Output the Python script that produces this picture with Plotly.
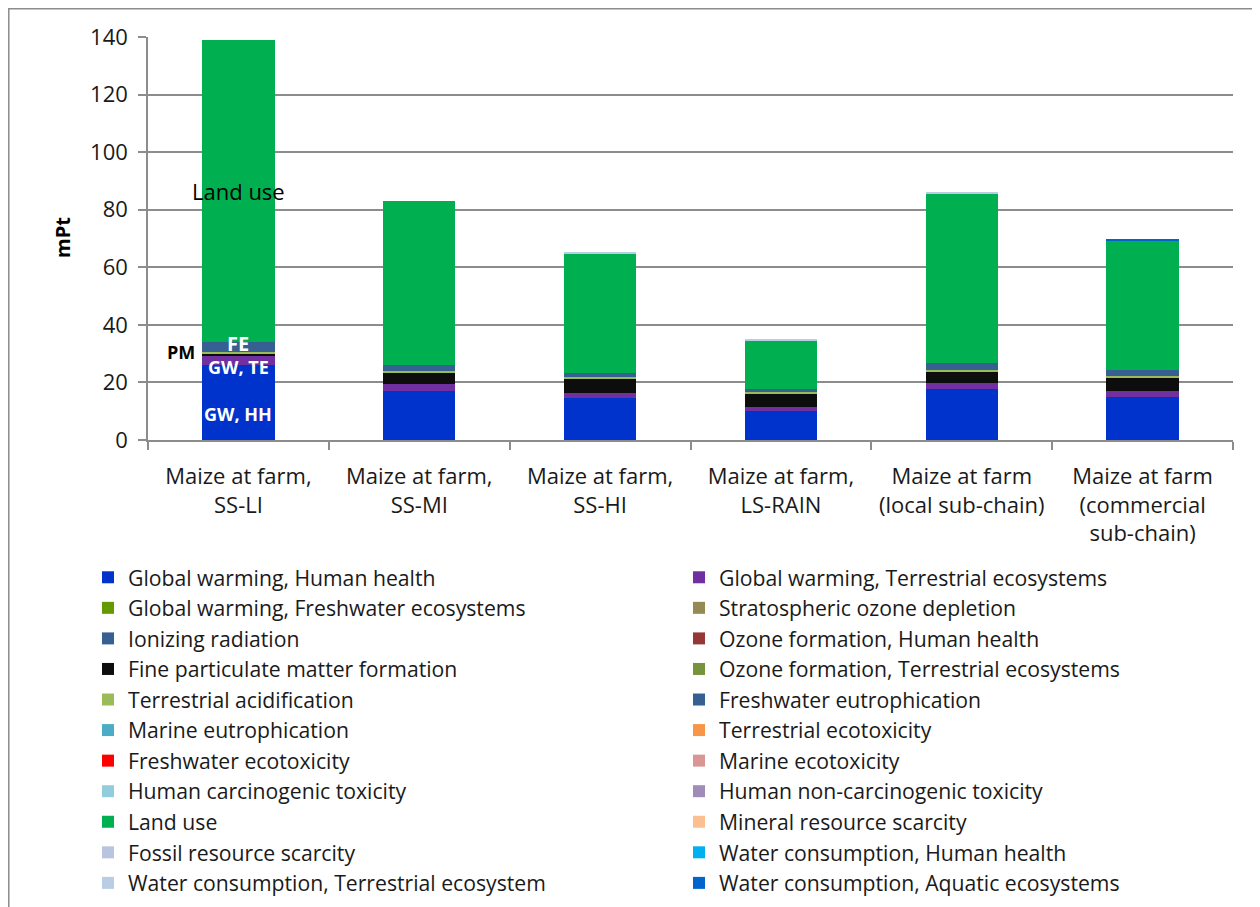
import plotly.graph_objects as go

categories = [
    "Maize at farm,<br>SS-LI",
    "Maize at farm,<br>SS-MI",
    "Maize at farm,<br>SS-HI",
    "Maize at farm,<br>LS-RAIN",
    "Maize at farm<br>(local sub-chain)",
    "Maize at farm<br>(commercial<br>sub-chain)",
]

series_names = [
    "Global warming, Human health",
    "Global warming, Terrestrial ecosystems",
    "Global warming, Freshwater ecosystems",
    "Stratospheric ozone depletion",
    "Ionizing radiation",
    "Ozone formation, Human health",
    "Fine particulate matter formation",
    "Ozone formation, Terrestrial ecosystems",
    "Terrestrial acidification",
    "Freshwater eutrophication",
    "Marine eutrophication",
    "Terrestrial ecotoxicity",
    "Freshwater ecotoxicity",
    "Marine ecotoxicity",
    "Human carcinogenic toxicity",
    "Human non-carcinogenic toxicity",
    "Land use",
    "Mineral resource scarcity",
    "Fossil resource scarcity",
    "Water consumption, Human health",
    "Water consumption, Terrestrial ecosystem",
    "Water consumption, Aquatic ecosystems",
]

series_colors = [
    "#0033CC", "#7030A0", "#669900", "#948A54", "#376092", "#953735",
    "#0D0D0D", "#77933C", "#9BBB59", "#376092", "#4BACC6", "#F79646",
    "#FF0000", "#D99694", "#93CDDD", "#A18BB8", "#00B050", "#FAC090",
    "#B9C4DE", "#00B0F0", "#B9CDE5", "#0066CC",
]

gw_hh = [26.0, 17.0, 14.5, 10.1, 17.6, 15.0]
gw_te = [3.1, 2.3, 1.9, 1.3, 2.1, 2.1]
gw_fe = [0.0, 0.0, 0.0, 0.0, 0.0, 0.0]
strat_ozone = [0.0, 0.0, 0.0, 0.0, 0.0, 0.0]
ionizing = [0.0, 0.0, 0.0, 0.0, 0.0, 0.0]
ozone_hh = [0.0, 0.0, 0.0, 0.0, 0.0, 0.0]
pm = [1.0, 3.9, 4.7, 4.8, 3.8, 4.5]
ozone_te = [0.0, 0.0, 0.0, 0.0, 0.0, 0.0]
terr_acid = [0.3, 0.8, 0.7, 0.5, 0.8, 0.7]
fw_eutro = [3.5, 2.0, 1.6, 0.9, 2.3, 1.9]
marine_eutro = [0.0, 0.0, 0.0, 0.0, 0.0, 0.0]
terr_ecotox = [0.0, 0.0, 0.0, 0.0, 0.0, 0.0]
fw_ecotox = [0.0, 0.0, 0.0, 0.0, 0.0, 0.0]
marine_ecotox = [0.0, 0.0, 0.0, 0.0, 0.0, 0.0]
human_carc = [0.0, 0.0, 0.0, 0.0, 0.0, 0.0]
human_noncarc = [0.0, 0.0, 0.0, 0.0, 0.0, 0.0]
land_use = [105.1, 57.2, 41.3, 17.1, 59.2, 45.0]
mineral = [0.0, 0.0, 0.0, 0.0, 0.0, 0.0]
fossil = [0.0, 0.0, 0.0, 0.0, 0.0, 0.2]
water_hh = [0.0, 0.0, 0.0, 0.0, 0.0, 0.0]
water_te = [0.0, 0.0, 0.4, 0.5, 0.4, 0.0]
water_aq = [0.0, 0.0, 0.0, 0.0, 0.0, 0.3]

series_values = [
    gw_hh, gw_te, gw_fe, strat_ozone, ionizing, ozone_hh, pm, ozone_te,
    terr_acid, fw_eutro, marine_eutro, terr_ecotox, fw_ecotox, marine_ecotox,
    human_carc, human_noncarc, land_use, mineral, fossil, water_hh, water_te,
    water_aq,
]

y_ticks = [0, 20, 40, 60, 80, 100, 120, 140]

FONT = "Open Sans"
TXT = "#1a1a1a"
GRID = "#8c8c8c"

fig = go.Figure()
for i, (name, vals, col) in enumerate(zip(series_names, series_values, series_colors)):
    fig.add_trace(go.Bar(
        x=categories, y=vals, name=name,
        marker=dict(color=col, line=dict(width=0)),
        legend="legend" if i % 2 == 0 else "legend2",
    ))

# page offset (browser body margin) and figure size
OFF = 8
FW, FH = 1260 - OFF, 907 - OFF
# plot area in reference-image pixels
PL, PR, PT, PB = 148, 1233, 37, 440
L = PL - OFF
R = FW - (PR - OFF)
T = PT - OFF
B = FH - (PB - OFF)
W = FW - L - R
H = FH - T - B


def px_x(p):
    return (p - OFF - L) / W


def px_y(p):
    return (PB - p) / H


leg_common = dict(
    orientation="v", yanchor="top", xanchor="left", traceorder="normal",
    font=dict(family=FONT, size=21.2, color=TXT),
    itemwidth=30, bgcolor="rgba(0,0,0,0)", borderwidth=0,
    tracegroupgap=0, itemclick=False, itemdoubleclick=False,
)

fig.update_layout(
    width=FW, height=FH,
    barmode="stack", bargap=0.6,
    paper_bgcolor="white", plot_bgcolor="white",
    margin=dict(l=L, r=R, t=T, b=B, autoexpand=False),
    font=dict(family=FONT, size=22, color=TXT),
    showlegend=True,
    legend=dict(x=px_x(88), y=px_y(557), **leg_common),
    legend2=dict(x=px_x(679), y=px_y(557), **leg_common),
    xaxis=dict(
        showline=True, linecolor=GRID, linewidth=1.5,
        ticks="outside", tickson="boundaries", ticklen=8,
        tickcolor=GRID, tickwidth=1.5,
        tickfont=dict(family=FONT, size=22, color=TXT),
        ticklabelstandoff=16,
        showgrid=False, fixedrange=True,
    ),
    yaxis=dict(
        range=[0, 140], tickvals=y_ticks,
        showline=True, linecolor=GRID, linewidth=1.5,
        ticks="outside", ticklen=8, tickcolor=GRID, tickwidth=1.5,
        showgrid=True, gridcolor=GRID, gridwidth=1.5,
        tickfont=dict(family=FONT, size=22, color=TXT),
        ticklabelstandoff=6,
        zeroline=False, fixedrange=True,
    ),
)

# outer chart frame
fig.add_shape(type="rect", xref="paper", yref="paper",
              x0=px_x(8.8), x1=px_x(1280), y0=px_y(930), y1=px_y(8.8),
              line=dict(color=GRID, width=1.5), fillcolor="rgba(0,0,0,0)",
              layer="below")

# y axis title
fig.add_annotation(xref="paper", yref="paper", x=px_x(62), y=px_y(238),
                   xanchor="center", yanchor="middle",
                   text="<b>mPt</b>", textangle=-90, showarrow=False,
                   font=dict(family=FONT, size=20, color="black"))

# bar labels on first bar
first = categories[0]
labels = [
    ("Land use", 86.5, "black", False, 22),
    ("FE", 33.6, "white", True, 20),
    ("GW, TE", 25.4, "white", True, 18),
    ("GW, HH", 9.0, "white", True, 18),
]
for text, yv, col, bold, size in labels:
    fig.add_annotation(x=first, y=yv, text=f"<b>{text}</b>" if bold else text,
                       showarrow=False, xanchor="center", yanchor="middle",
                       font=dict(family=FONT, size=size, color=col))
fig.add_annotation(x=first, y=30.4, text="<b>PM</b>", showarrow=False,
                   xanchor="center", yanchor="middle", xshift=-57,
                   font=dict(family=FONT, size=18, color="black"))

fig.write_html("out.html")
